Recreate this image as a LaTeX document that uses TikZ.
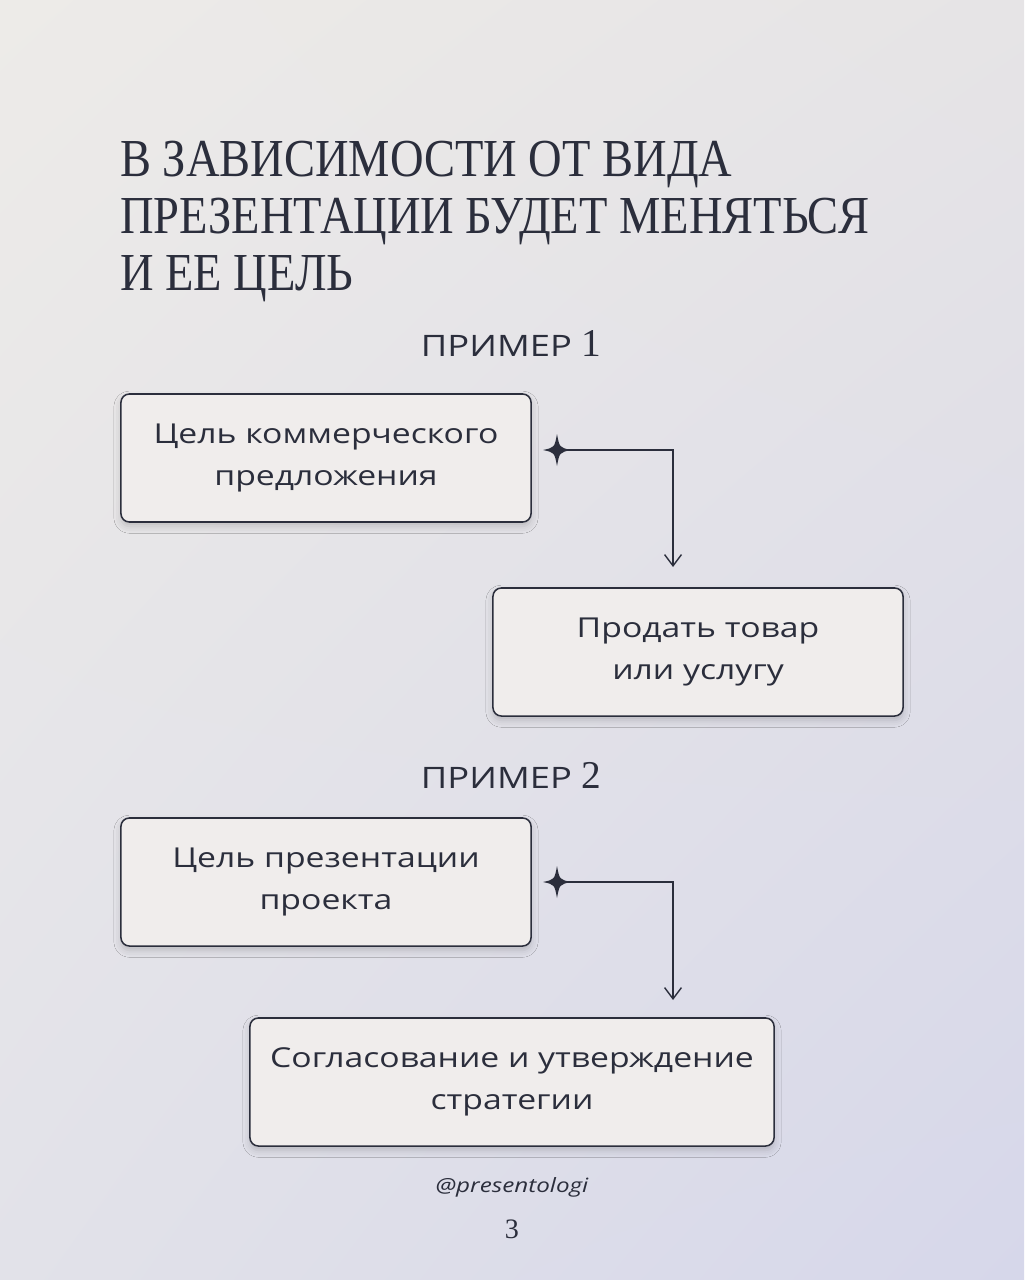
\documentclass[tikz,border=0pt]{standalone}
\usepackage{fontspec}
\setmainfont{Liberation Serif}
\newfontfamily\titlefont[FakeStretch=0.87]{Liberation Serif}
\newfontfamily\bodyfont[FakeStretch=1.23]{Open Sans}
\usetikzlibrary{arrows.meta,positioning,shadows.blur,shadings}

\definecolor{ink}{HTML}{2B2E3C}
\definecolor{boxfill}{HTML}{F0EDEC}
\definecolor{bgtl}{RGB}{237,235,232}
\definecolor{bgtr}{RGB}{230,228,230}
\definecolor{bgbl}{RGB}{226,226,233}
\definecolor{bgbr}{RGB}{214,215,234}

\tikzset{
  goalbox/.style={draw=ink, line width=1.1pt, fill=boxfill, rounded corners=6pt,
    minimum width=10.25cm, minimum height=3.2cm, align=center, text=ink,
    font=\bodyfont\fontsize{19.5}{30}\selectfont,
    blur shadow={shadow xshift=0pt, shadow yshift=-3pt, shadow blur radius=5pt, shadow opacity=18}},
  heading/.style={text=ink, inner sep=0pt, font=\bodyfont\fontsize{21}{24}\selectfont},
  flow/.style={draw=ink, line width=1pt, -{Straight Barb[length=8pt, width=12pt]}},
  sparkle/.pic={\fill[ink] (0,-16) .. controls (2.5,-2.5) .. (14,0) .. controls (2.5,2.5) .. (0,16)
    .. controls (-2.5,2.5) .. (-14,0) .. controls (-2.5,-2.5) .. (0,-16) -- cycle;}
}

\begin{document}
\begin{tikzpicture}[x=0.025cm, y=-0.025cm]
  \useasboundingbox (0,0) rectangle (1024,1280);
  % background
  \shade[upper left=bgtl, upper right=bgtr, lower left=bgbl, lower right=bgbr]
    (0,0) rectangle (1024,1280);

  % title
  \node[anchor=north west, inner sep=0pt, align=left, text=ink,
        font=\titlefont\fontsize{38}{40.5}\selectfont] (title) at (120,141)
    {В ЗАВИСИМОСТИ ОТ ВИДА\\ПРЕЗЕНТАЦИИ БУДЕТ МЕНЯТЬСЯ\\И ЕЕ ЦЕЛЬ};

  % example 1
  \node[heading, anchor=base] (ex1) at (511,356) {ПРИМЕР {\rmfamily\fontsize{28}{28}\selectfont 1}};
  \node[goalbox] (b1) at (326,458) {Цель коммерческого\\предложения};
  \node[goalbox] (b2) at (698,652) {Продать товар\\или услугу};
  \coordinate (st1) at (557,450);
  \coordinate (tip1) at (673,567);
  \draw[flow] (st1) -| (tip1);
  \pic at (st1) {sparkle};

  % example 2
  \node[heading, anchor=base] (ex2) at (511,788) {ПРИМЕР {\rmfamily\fontsize{28}{28}\selectfont 2}};
  \node[goalbox] (b3) at (326,882) {Цель презентации\\проекта};
  \node[goalbox, minimum width=13.1cm] (b4) at (512,1082) {Согласование и утверждение\\стратегии};
  \coordinate (st2) at (557,882);
  \coordinate (tip2) at (673,1000);
  \draw[flow] (st2) -| (tip2);
  \pic at (st2) {sparkle};

  % footer
  \node[anchor=base, text=ink, font=\bodyfont\itshape\fontsize{14}{16}\selectfont] (tag) at (512,1192) {@presentologi};
  \node[anchor=base, text=ink, font=\fontsize{20}{20}\selectfont] (page) at (512,1238) {3};
\end{tikzpicture}
\end{document}
